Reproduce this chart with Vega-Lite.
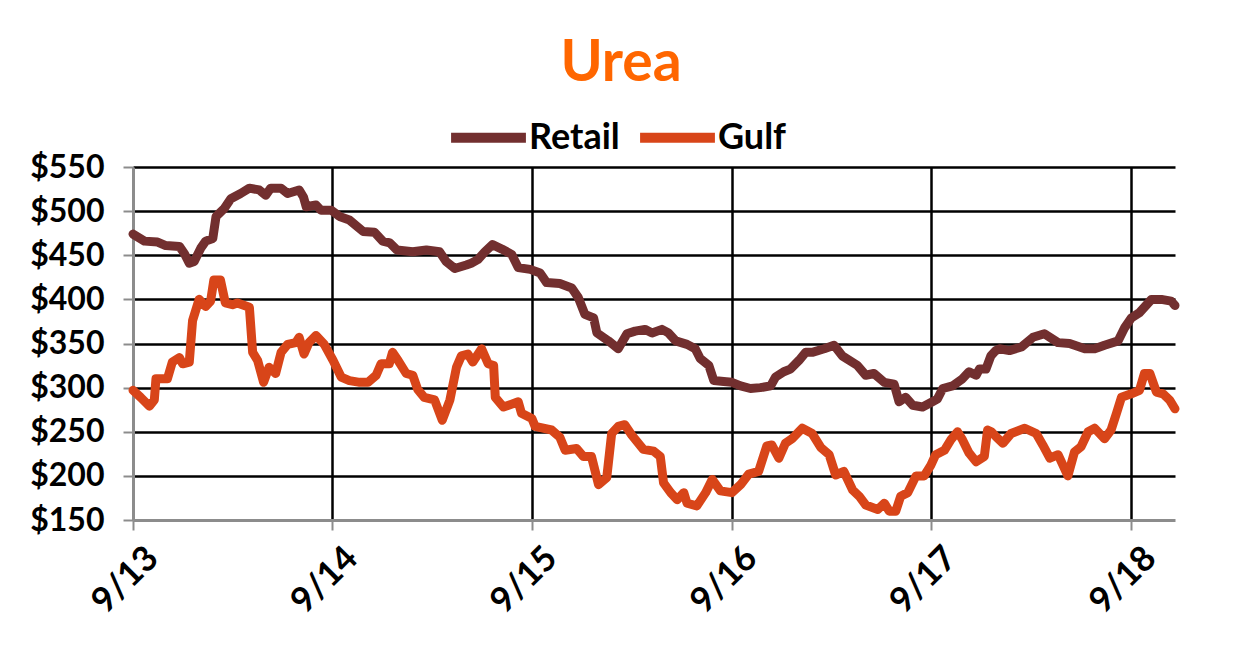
{
  "$schema": "https://vega.github.io/schema/vega-lite/v6.json",
  "width": 1042,
  "height": 353,
  "autosize": {"type": "none"},
  "padding": {"left": 133, "top": 167, "right": 67, "bottom": 151},
  "background": "white",
  "title": {"text": "Urea", "color": "#FF6600", "font": "Lato", "fontSize": 57, "fontWeight": "bold", "anchor": "middle", "dx": -33, "dy": 72, "offset": 29, "baseline": "alphabetic"},
  "data": {"values": [
    {"date":"2013/09/01","series":"Retail","price":474},{"date":"2013/09/22","series":"Retail","price":466},{"date":"2013/10/16","series":"Retail","price":465},{"date":"2013/10/31","series":"Retail","price":461},{"date":"2013/11/25","series":"Retail","price":460},{"date":"2013/12/04","series":"Retail","price":452},{"date":"2013/12/13","series":"Retail","price":441},{"date":"2013/12/22","series":"Retail","price":443},{"date":"2014/01/03","series":"Retail","price":458},{"date":"2014/01/12","series":"Retail","price":466},{"date":"2014/01/25","series":"Retail","price":469},{"date":"2014/01/31","series":"Retail","price":494},{"date":"2014/02/15","series":"Retail","price":503},{"date":"2014/02/27","series":"Retail","price":514},{"date":"2014/03/17","series":"Retail","price":520},{"date":"2014/04/02","series":"Retail","price":526},{"date":"2014/04/20","series":"Retail","price":524},{"date":"2014/05/02","series":"Retail","price":518},{"date":"2014/05/11","series":"Retail","price":526},{"date":"2014/05/30","series":"Retail","price":526},{"date":"2014/06/11","series":"Retail","price":520},{"date":"2014/07/02","series":"Retail","price":524},{"date":"2014/07/10","series":"Retail","price":516},{"date":"2014/07/15","series":"Retail","price":505},{"date":"2014/08/02","series":"Retail","price":507},{"date":"2014/08/11","series":"Retail","price":501},{"date":"2014/08/30","series":"Retail","price":501},{"date":"2014/09/14","series":"Retail","price":494},{"date":"2014/10/02","series":"Retail","price":490},{"date":"2014/10/27","series":"Retail","price":477},{"date":"2014/11/17","series":"Retail","price":476},{"date":"2014/12/02","series":"Retail","price":466},{"date":"2014/12/15","series":"Retail","price":464},{"date":"2014/12/28","series":"Retail","price":456},{"date":"2015/01/26","series":"Retail","price":454},{"date":"2015/02/20","series":"Retail","price":456},{"date":"2015/03/16","series":"Retail","price":454},{"date":"2015/03/28","series":"Retail","price":443},{"date":"2015/04/13","series":"Retail","price":435},{"date":"2015/05/04","series":"Retail","price":439},{"date":"2015/05/13","series":"Retail","price":441},{"date":"2015/05/25","series":"Retail","price":445},{"date":"2015/06/07","series":"Retail","price":454},{"date":"2015/06/21","series":"Retail","price":462},{"date":"2015/07/08","series":"Retail","price":457},{"date":"2015/07/26","series":"Retail","price":451},{"date":"2015/08/07","series":"Retail","price":436},{"date":"2015/08/29","series":"Retail","price":434},{"date":"2015/09/16","series":"Retail","price":430},{"date":"2015/09/28","series":"Retail","price":419},{"date":"2015/10/22","series":"Retail","price":418},{"date":"2015/11/13","series":"Retail","price":413},{"date":"2015/11/25","series":"Retail","price":402},{"date":"2015/12/07","series":"Retail","price":383},{"date":"2015/12/23","series":"Retail","price":379},{"date":"2015/12/29","series":"Retail","price":362},{"date":"2016/01/19","series":"Retail","price":353},{"date":"2016/02/06","series":"Retail","price":344},{"date":"2016/02/22","series":"Retail","price":361},{"date":"2016/03/08","series":"Retail","price":364},{"date":"2016/03/26","series":"Retail","price":366},{"date":"2016/04/08","series":"Retail","price":362},{"date":"2016/04/26","series":"Retail","price":366},{"date":"2016/05/08","series":"Retail","price":362},{"date":"2016/05/21","series":"Retail","price":353},{"date":"2016/06/11","series":"Retail","price":349},{"date":"2016/06/26","series":"Retail","price":344},{"date":"2016/07/05","series":"Retail","price":333},{"date":"2016/07/21","series":"Retail","price":325},{"date":"2016/07/30","series":"Retail","price":308},{"date":"2016/08/17","series":"Retail","price":307},{"date":"2016/09/01","series":"Retail","price":306},{"date":"2016/09/17","series":"Retail","price":302},{"date":"2016/10/05","series":"Retail","price":299},{"date":"2016/10/23","series":"Retail","price":300},{"date":"2016/11/11","series":"Retail","price":302},{"date":"2016/11/20","series":"Retail","price":312},{"date":"2016/12/05","series":"Retail","price":318},{"date":"2016/12/17","series":"Retail","price":321},{"date":"2017/01/02","series":"Retail","price":331},{"date":"2017/01/14","series":"Retail","price":340},{"date":"2017/01/26","series":"Retail","price":340},{"date":"2017/02/17","series":"Retail","price":344},{"date":"2017/03/07","series":"Retail","price":348},{"date":"2017/03/22","series":"Retail","price":336},{"date":"2017/04/19","series":"Retail","price":325},{"date":"2017/05/04","series":"Retail","price":314},{"date":"2017/05/19","series":"Retail","price":316},{"date":"2017/06/07","series":"Retail","price":306},{"date":"2017/06/25","series":"Retail","price":304},{"date":"2017/07/04","series":"Retail","price":284},{"date":"2017/07/16","series":"Retail","price":289},{"date":"2017/07/29","series":"Retail","price":280},{"date":"2017/08/16","series":"Retail","price":278},{"date":"2017/09/03","series":"Retail","price":284},{"date":"2017/09/12","series":"Retail","price":287},{"date":"2017/09/22","series":"Retail","price":299},{"date":"2017/10/10","series":"Retail","price":302},{"date":"2017/10/28","series":"Retail","price":310},{"date":"2017/11/09","series":"Retail","price":318},{"date":"2017/11/22","series":"Retail","price":314},{"date":"2017/11/28","series":"Retail","price":321},{"date":"2017/12/10","series":"Retail","price":321},{"date":"2017/12/19","series":"Retail","price":336},{"date":"2017/12/28","series":"Retail","price":342},{"date":"2018/01/04","series":"Retail","price":344},{"date":"2018/01/22","series":"Retail","price":342},{"date":"2018/02/13","series":"Retail","price":346},{"date":"2018/03/06","series":"Retail","price":357},{"date":"2018/03/27","series":"Retail","price":361},{"date":"2018/04/21","series":"Retail","price":351},{"date":"2018/05/12","series":"Retail","price":350},{"date":"2018/06/09","series":"Retail","price":344},{"date":"2018/06/27","series":"Retail","price":344},{"date":"2018/07/15","series":"Retail","price":348},{"date":"2018/08/09","series":"Retail","price":353},{"date":"2018/08/21","series":"Retail","price":368},{"date":"2018/09/02","series":"Retail","price":379},{"date":"2018/09/17","series":"Retail","price":385},{"date":"2018/10/09","series":"Retail","price":400},{"date":"2018/10/27","series":"Retail","price":400},{"date":"2018/11/14","series":"Retail","price":398},{"date":"2018/11/21","series":"Retail","price":393},
    {"date":"2013/09/01","series":"Gulf","price":297},{"date":"2013/09/15","series":"Gulf","price":289},{"date":"2013/10/01","series":"Gulf","price":279},{"date":"2013/10/10","series":"Gulf","price":286},{"date":"2013/10/13","series":"Gulf","price":310},{"date":"2013/11/03","series":"Gulf","price":310},{"date":"2013/11/12","series":"Gulf","price":329},{"date":"2013/11/25","series":"Gulf","price":334},{"date":"2013/12/01","series":"Gulf","price":327},{"date":"2013/12/13","series":"Gulf","price":329},{"date":"2013/12/19","series":"Gulf","price":376},{"date":"2013/12/31","series":"Gulf","price":400},{"date":"2014/01/12","series":"Gulf","price":392},{"date":"2014/01/21","series":"Gulf","price":398},{"date":"2014/01/27","series":"Gulf","price":422},{"date":"2014/02/08","series":"Gulf","price":422},{"date":"2014/02/17","series":"Gulf","price":396},{"date":"2014/03/02","series":"Gulf","price":394},{"date":"2014/03/11","series":"Gulf","price":396},{"date":"2014/04/02","series":"Gulf","price":391},{"date":"2014/04/08","series":"Gulf","price":340},{"date":"2014/04/17","series":"Gulf","price":331},{"date":"2014/04/28","series":"Gulf","price":306},{"date":"2014/05/08","series":"Gulf","price":323},{"date":"2014/05/20","series":"Gulf","price":316},{"date":"2014/05/30","series":"Gulf","price":340},{"date":"2014/06/11","series":"Gulf","price":349},{"date":"2014/06/26","series":"Gulf","price":351},{"date":"2014/07/02","series":"Gulf","price":357},{"date":"2014/07/11","series":"Gulf","price":338},{"date":"2014/07/20","series":"Gulf","price":351},{"date":"2014/08/02","series":"Gulf","price":359},{"date":"2014/08/17","series":"Gulf","price":349},{"date":"2014/09/02","series":"Gulf","price":331},{"date":"2014/09/17","series":"Gulf","price":312},{"date":"2014/10/02","series":"Gulf","price":308},{"date":"2014/10/21","series":"Gulf","price":306},{"date":"2014/11/05","series":"Gulf","price":306},{"date":"2014/11/20","series":"Gulf","price":314},{"date":"2014/11/29","series":"Gulf","price":327},{"date":"2014/12/14","series":"Gulf","price":327},{"date":"2014/12/20","series":"Gulf","price":340},{"date":"2014/12/30","series":"Gulf","price":331},{"date":"2015/01/14","series":"Gulf","price":316},{"date":"2015/01/26","series":"Gulf","price":314},{"date":"2015/02/04","series":"Gulf","price":298},{"date":"2015/02/16","series":"Gulf","price":289},{"date":"2015/03/07","series":"Gulf","price":286},{"date":"2015/03/21","series":"Gulf","price":263},{"date":"2015/04/04","series":"Gulf","price":286},{"date":"2015/04/16","series":"Gulf","price":323},{"date":"2015/04/25","series":"Gulf","price":336},{"date":"2015/05/07","series":"Gulf","price":338},{"date":"2015/05/16","series":"Gulf","price":329},{"date":"2015/06/01","series":"Gulf","price":344},{"date":"2015/06/13","series":"Gulf","price":327},{"date":"2015/06/23","series":"Gulf","price":325},{"date":"2015/06/26","series":"Gulf","price":289},{"date":"2015/07/11","series":"Gulf","price":278},{"date":"2015/08/07","series":"Gulf","price":284},{"date":"2015/08/13","series":"Gulf","price":271},{"date":"2015/09/01","series":"Gulf","price":265},{"date":"2015/09/07","series":"Gulf","price":256},{"date":"2015/10/07","series":"Gulf","price":252},{"date":"2015/10/22","series":"Gulf","price":244},{"date":"2015/11/01","series":"Gulf","price":229},{"date":"2015/11/22","series":"Gulf","price":231},{"date":"2015/12/04","series":"Gulf","price":222},{"date":"2015/12/19","series":"Gulf","price":222},{"date":"2016/01/01","series":"Gulf","price":190},{"date":"2016/01/16","series":"Gulf","price":198},{"date":"2016/01/25","series":"Gulf","price":248},{"date":"2016/02/06","series":"Gulf","price":256},{"date":"2016/02/18","series":"Gulf","price":258},{"date":"2016/03/02","series":"Gulf","price":246},{"date":"2016/03/23","series":"Gulf","price":230},{"date":"2016/04/11","series":"Gulf","price":228},{"date":"2016/04/23","series":"Gulf","price":222},{"date":"2016/04/29","series":"Gulf","price":192},{"date":"2016/05/12","series":"Gulf","price":181},{"date":"2016/05/24","series":"Gulf","price":173},{"date":"2016/06/05","series":"Gulf","price":181},{"date":"2016/06/11","series":"Gulf","price":169},{"date":"2016/06/29","series":"Gulf","price":166},{"date":"2016/07/15","series":"Gulf","price":181},{"date":"2016/07/27","series":"Gulf","price":196},{"date":"2016/08/11","series":"Gulf","price":183},{"date":"2016/09/01","series":"Gulf","price":181},{"date":"2016/09/17","series":"Gulf","price":190},{"date":"2016/10/02","series":"Gulf","price":202},{"date":"2016/10/20","series":"Gulf","price":205},{"date":"2016/11/04","series":"Gulf","price":234},{"date":"2016/11/13","series":"Gulf","price":235},{"date":"2016/11/26","series":"Gulf","price":220},{"date":"2016/12/08","series":"Gulf","price":237},{"date":"2016/12/20","series":"Gulf","price":242},{"date":"2017/01/08","series":"Gulf","price":254},{"date":"2017/01/26","series":"Gulf","price":248},{"date":"2017/02/11","series":"Gulf","price":232},{"date":"2017/02/26","series":"Gulf","price":224},{"date":"2017/03/10","series":"Gulf","price":201},{"date":"2017/03/25","series":"Gulf","price":205},{"date":"2017/04/10","series":"Gulf","price":184},{"date":"2017/04/22","series":"Gulf","price":177},{"date":"2017/05/04","series":"Gulf","price":167},{"date":"2017/05/26","series":"Gulf","price":162},{"date":"2017/06/07","series":"Gulf","price":169},{"date":"2017/06/16","series":"Gulf","price":160},{"date":"2017/06/28","series":"Gulf","price":160},{"date":"2017/07/07","series":"Gulf","price":177},{"date":"2017/07/20","series":"Gulf","price":181},{"date":"2017/08/04","series":"Gulf","price":200},{"date":"2017/08/19","series":"Gulf","price":200},{"date":"2017/08/31","series":"Gulf","price":212},{"date":"2017/09/09","series":"Gulf","price":224},{"date":"2017/09/25","series":"Gulf","price":229},{"date":"2017/10/07","series":"Gulf","price":241},{"date":"2017/10/19","series":"Gulf","price":250},{"date":"2017/10/28","series":"Gulf","price":241},{"date":"2017/11/09","series":"Gulf","price":226},{"date":"2017/11/22","series":"Gulf","price":216},{"date":"2017/12/07","series":"Gulf","price":222},{"date":"2017/12/13","series":"Gulf","price":252},{"date":"2017/12/20","series":"Gulf","price":250},{"date":"2017/12/29","series":"Gulf","price":244},{"date":"2018/01/10","series":"Gulf","price":237},{"date":"2018/01/25","series":"Gulf","price":248},{"date":"2018/02/19","series":"Gulf","price":254},{"date":"2018/03/12","series":"Gulf","price":248},{"date":"2018/03/24","series":"Gulf","price":235},{"date":"2018/04/06","series":"Gulf","price":220},{"date":"2018/04/21","series":"Gulf","price":224},{"date":"2018/05/09","series":"Gulf","price":200},{"date":"2018/05/21","series":"Gulf","price":227},{"date":"2018/06/02","series":"Gulf","price":233},{"date":"2018/06/15","series":"Gulf","price":250},{"date":"2018/06/27","series":"Gulf","price":254},{"date":"2018/07/15","series":"Gulf","price":242},{"date":"2018/07/27","series":"Gulf","price":252},{"date":"2018/08/06","series":"Gulf","price":271},{"date":"2018/08/15","series":"Gulf","price":289},{"date":"2018/09/02","series":"Gulf","price":293},{"date":"2018/09/17","series":"Gulf","price":297},{"date":"2018/09/26","series":"Gulf","price":316},{"date":"2018/10/06","series":"Gulf","price":316},{"date":"2018/10/18","series":"Gulf","price":295},{"date":"2018/10/30","series":"Gulf","price":293},{"date":"2018/11/11","series":"Gulf","price":286},{"date":"2018/11/21","series":"Gulf","price":276}
  ]},
  "mark": {"type": "line", "strokeWidth": 9, "strokeCap": "round", "strokeJoin": "round"},
  "encoding": {
    "x": {
      "field": "date", "type": "temporal",
      "scale": {"domain": [{"year": 2013, "month": 9, "date": 1}, {"year": 2018, "month": 11, "date": 21}]},
      "axis": {
        "title": null,
        "values": [{"year": 2013, "month": 9, "date": 1}, {"year": 2014, "month": 9, "date": 1}, {"year": 2015, "month": 9, "date": 1}, {"year": 2016, "month": 9, "date": 1}, {"year": 2017, "month": 9, "date": 1}, {"year": 2018, "month": 9, "date": 1}],
        "format": "%-m/%y",
        "labelAngle": -45, "labelAlign": "right", "labelBaseline": "middle",
        "labelPadding": 22, "labelOffset": 19,
        "labelFont": "Lato", "labelFontSize": 35, "labelFontWeight": "bold", "labelColor": "black",
        "domainColor": "#8C8C8C", "domainWidth": 3,
        "tickColor": "#8C8C8C", "tickWidth": 2, "tickSize": 10,
        "grid": true, "gridColor": "black", "gridWidth": 2.5,
        "gridOpacity": {"condition": {"test": "datum.value < datetime(2013, 8, 15)", "value": 0}, "value": 1}
      }
    },
    "y": {
      "field": "price", "type": "quantitative",
      "scale": {"domain": [150, 550]},
      "axis": {
        "title": null,
        "values": [150, 200, 250, 300, 350, 400, 450, 500, 550],
        "format": "$,.0f",
        "labelFont": "Lato", "labelFontSize": 32, "labelFontWeight": "bold", "labelColor": "black", "labelPadding": 19,
        "domainColor": "#8C8C8C", "domainWidth": 3,
        "tickColor": "#8C8C8C", "tickWidth": 2, "tickSize": 10,
        "grid": true, "gridColor": "black", "gridWidth": 2.5,
        "gridOpacity": {"condition": {"test": "datum.value <= 150", "value": 0}, "value": 1}
      }
    },
    "color": {
      "field": "series", "type": "nominal",
      "scale": {"domain": ["Retail", "Gulf"], "range": ["#722F2F", "#D84519"]},
      "legend": {
        "title": null, "orient": "none", "legendX": 313, "legendY": -72, "direction": "horizontal",
        "symbolType": "stroke", "symbolStrokeWidth": 10, "symbolSize": 5600,
        "labelFont": "Lato", "labelFontSize": 36, "labelFontWeight": "bold", "labelColor": "black",
        "labelOffset": -2, "columnPadding": 0
      }
    }
  },
  "config": {"view": {"stroke": null}}
}
